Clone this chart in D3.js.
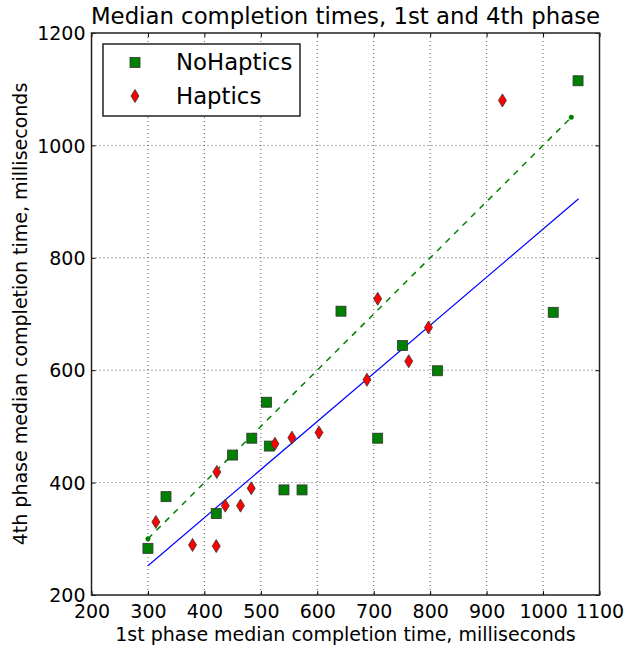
<!DOCTYPE html>
<html>
<head>
<meta charset="utf-8">
<script src="https://cdn.jsdelivr.net/npm/d3@7"></script>
<style>
  body { margin: 0; background: #fff; }
  text { font-family: "DejaVu Sans", sans-serif; fill: #000; }
</style>
</head>
<body>
<div id="chart"></div>
<script>
// data
const noHapticsX = [300, 332, 421, 450, 484, 510, 515, 541, 573, 642, 707, 751, 813, 1018, 1062]
const noHapticsY = [283, 375, 345, 449, 479, 543, 465, 387, 387, 705, 479, 644, 599, 703, 1115]
const hapticsX = [314, 379, 421, 422, 437, 464, 483, 525, 555, 603, 688, 707, 762, 797, 928]
const hapticsY = [330, 289, 287, 419, 359, 359, 390, 469, 480, 489, 583, 727, 616, 676, 1080]
const diagX = [300, 1050]          // green dashed reference line
const diagY = [300, 1050]
const fitX = [300, 1063]           // blue fit line
const fitY = [252, 905]
const xTicks = [200, 300, 400, 500, 600, 700, 800, 900, 1000, 1100]
const yTicks = [200, 400, 600, 800, 1000, 1200]

const W = 624, H = 645
const margin = {left: 91.5, top: 33, right: 24.5, bottom: 50}
const iw = W - margin.left - margin.right
const ih = H - margin.top - margin.bottom

const svg = d3.select('#chart').append('svg')
    .attr('width', W).attr('height', H)

const x = d3.scaleLinear().domain([200, 1100]).range([0, iw])
const y = d3.scaleLinear().domain([200, 1200]).range([ih, 0])

const g = svg.append('g').attr('transform', `translate(${margin.left},${margin.top})`)

// grid, dotted
g.append('g').selectAll('line').data(xTicks.slice(1, -1)).join('line')
    .attr('x1', d => x(d)).attr('x2', d => x(d)).attr('y1', 0).attr('y2', ih)
    .attr('stroke', '#333').attr('stroke-width', 0.8).attr('stroke-dasharray', '1,3')
g.append('g').selectAll('line').data(yTicks.slice(1, -1)).join('line')
    .attr('y1', d => y(d)).attr('y2', d => y(d)).attr('x1', 0).attr('x2', iw)
    .attr('stroke', '#333').attr('stroke-width', 0.8).attr('stroke-dasharray', '1,3')

// axes with inward ticks on all four sides
const fmt = d3.format('d')
const xAx = g.append('g').attr('transform', `translate(0,${ih})`)
    .call(d3.axisBottom(x).tickValues(xTicks).tickSizeInner(-4).tickSizeOuter(0).tickPadding(10).tickFormat(fmt))
const xTop = g.append('g')
    .call(d3.axisTop(x).tickValues(xTicks).tickSizeInner(-4).tickSizeOuter(0).tickFormat(''))
const yAx = g.append('g')
    .call(d3.axisLeft(y).tickValues(yTicks).tickSizeInner(-4).tickSizeOuter(0).tickPadding(6).tickFormat(fmt))
const yRight = g.append('g').attr('transform', `translate(${iw},0)`)
    .call(d3.axisRight(y).tickValues(yTicks).tickSizeInner(-4).tickSizeOuter(0).tickFormat(''))

;[xAx, xTop, yAx, yRight].forEach(a => {
    a.select('.domain').remove()
    a.selectAll('line').attr('stroke', '#000')
    a.selectAll('text').style('font-size', '19px').style('font-family', '"DejaVu Sans", sans-serif').attr('fill', '#000')
})
yAx.selectAll('text').attr('dy', '0.35em')

// fit line
const line = d3.line().x(d => x(d[0])).y(d => y(d[1]))
g.append('path').datum(d3.zip(fitX, fitY))
    .attr('d', line).attr('fill', 'none').attr('stroke', '#0000ff').attr('stroke-width', 1.2)

// diagonal, dashed with dot markers
g.append('path').datum(d3.zip(diagX, diagY))
    .attr('d', line).attr('fill', 'none').attr('stroke', '#008000')
    .attr('stroke-width', 1.5).attr('stroke-dasharray', '6,6')
g.append('g').selectAll('circle').data(d3.zip(diagX, diagY)).join('circle')
    .attr('cx', d => x(d[0])).attr('cy', d => y(d[1])).attr('r', 2.5).attr('fill', '#008000')

// markers
const sq = 10
const diamond = (cx, cy) => `M${cx},${cy - 6.5}L${cx + 4},${cy}L${cx},${cy + 6.5}L${cx - 4},${cy}Z`

g.append('g').selectAll('rect').data(d3.zip(noHapticsX, noHapticsY)).join('rect')
    .attr('x', d => x(d[0]) - sq / 2).attr('y', d => y(d[1]) - sq / 2)
    .attr('width', sq).attr('height', sq)
    .attr('fill', '#008000').attr('stroke', '#333').attr('stroke-width', 0.8)

g.append('g').selectAll('path').data(d3.zip(hapticsX, hapticsY)).join('path')
    .attr('d', d => diamond(x(d[0]), y(d[1])))
    .attr('fill', '#ff0000').attr('stroke', '#333').attr('stroke-width', 0.8)

// frame
g.append('rect').attr('width', iw).attr('height', ih)
    .attr('fill', 'none').attr('stroke', '#222').attr('stroke-width', 1.5)

// legend
const lg = g.append('g').attr('transform', `translate(${103 - margin.left},${44 - margin.top})`)
lg.append('rect').attr('width', 197).attr('height', 72)
    .attr('fill', '#fff').attr('stroke', '#222').attr('stroke-width', 1.5)
lg.append('rect').attr('x', 32 - sq / 2).attr('y', 18.5 - sq / 2).attr('width', sq).attr('height', sq)
    .attr('fill', '#008000').attr('stroke', '#333').attr('stroke-width', 0.8)
lg.append('path').attr('d', diamond(32, 52))
    .attr('fill', '#ff0000').attr('stroke', '#333').attr('stroke-width', 0.8)
lg.append('text').attr('x', 73).attr('y', 18.5).attr('dy', '0.35em')
    .style('font-size', '22.8px').text('NoHaptics')
lg.append('text').attr('x', 73).attr('y', 52).attr('dy', '0.35em')
    .style('font-size', '22.8px').text('Haptics')

// titles
svg.append('text').attr('x', margin.left + iw / 2).attr('y', 24)
    .attr('text-anchor', 'middle').style('font-size', '22.8px')
    .text('Median completion times, 1st and 4th phase')
svg.append('text').attr('x', margin.left + iw / 2).attr('y', 641)
    .attr('text-anchor', 'middle').style('font-size', '19px')
    .text('1st phase median completion time, milliseconds')
svg.append('text').attr('transform', `translate(27,${margin.top + ih / 2}) rotate(-90)`)
    .attr('text-anchor', 'middle').style('font-size', '19px')
    .text('4th phase median completion time, milliseconds')
</script>
</body>
</html>
